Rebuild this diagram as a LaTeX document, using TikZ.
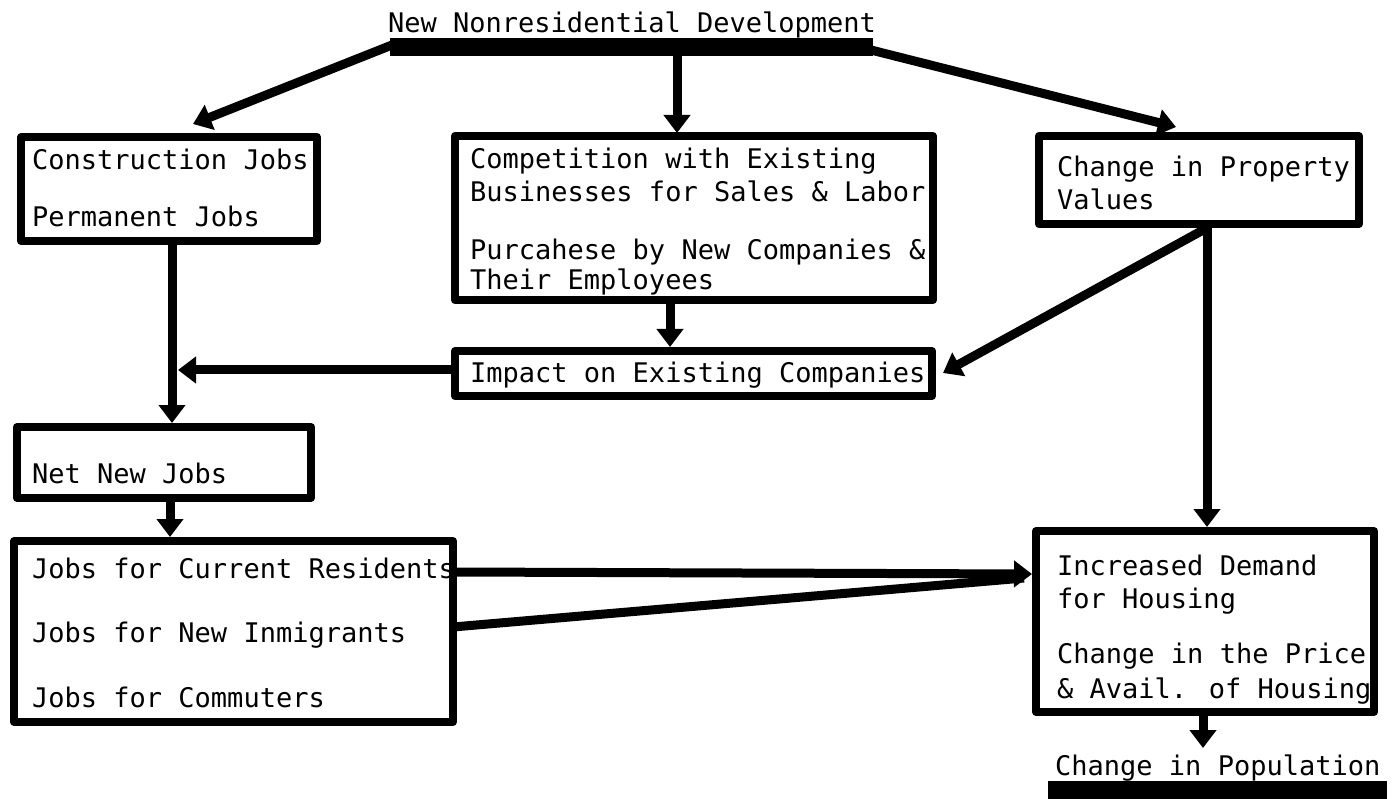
\documentclass[tikz,border=0pt]{standalone}
\usepackage{fontspec}
\newfontfamily\tw{DejaVu Sans Mono}
\usetikzlibrary{arrows.meta}
\begin{document}
\begin{tikzpicture}[x=1pt,y=-1pt,
  box/.style={draw, line width=8pt, inner sep=0pt, line join=round},
  txt/.style={anchor=base west, inner sep=0pt, font=\tw\fontsize{27}{32}\selectfont},
  arr/.style={line width=9pt, -{Triangle[width=26pt,length=18pt]}},
  link/.style={line width=9pt}]
\useasboundingbox (0,0) rectangle (1392,799);
% title and bar
\node[txt] (title) at (388,33) {New Nonresidential Development};
\node[fill=black, inner sep=0pt, minimum width=483pt, minimum height=18pt] (bar) at (631.5,47) {};
% boxes
\node[box, minimum width=296pt, minimum height=104pt] (cons) at (169,189) {};
\node[box, minimum width=478pt, minimum height=164pt] (comp) at (694,218) {};
\node[box, minimum width=320pt, minimum height=88pt] (prop) at (1199,180) {};
\node[box, minimum width=477pt, minimum height=45pt] (imp) at (693.5,373.5) {};
\node[box, minimum width=294pt, minimum height=71pt] (net) at (164,462.5) {};
\node[box, minimum width=439pt, minimum height=181pt] (jobs) at (233.5,631.5) {};
\node[box, minimum width=338pt, minimum height=181pt] (hous) at (1205,621.5) {};
\node[fill=black, inner sep=0pt, minimum width=339pt, minimum height=19pt] (popbar) at (1217.5,790.5) {};
% texts
\node[txt] (t1) at (32,170) {Construction Jobs};
\node[txt] (t2) at (32,227) {Permanent Jobs};
\node[txt] (t3) at (470,169) {Competition with Existing};
\node[txt] (t4) at (470,202) {Businesses for Sales \& Labor};
\node[txt] (t5) at (470,260) {Purcahese by New Companies \&};
\node[txt] (t6) at (470,290) {Their Employees};
\node[txt] (t7) at (1057,177) {Change in Property};
\node[txt] (t8) at (1057,210) {Values};
\node[txt] (t9) at (470,383) {Impact on Existing Companies};
\node[txt] (t10) at (32,483) {Net New Jobs};
\node[txt] (t11) at (32,578) {Jobs for Current Residents};
\node[txt] (t12) at (32,642) {Jobs for New Inmigrants};
\node[txt] (t13) at (32,707) {Jobs for Commuters};
\node[txt] (t14) at (1057,575) {Increased Demand};
\node[txt] (t15) at (1057,608) {for Housing};
\node[txt] (t16) at (1057,663) {Change in the Price};
\node[txt] (t17) at (1057,698) {\& Avail. of Housing};
\node[txt] (pop) at (1055,775) {Change in Population};
% connector end points
\coordinate (barL) at (392,45);
\coordinate (barR) at (871,50);
\coordinate (barM) at (677,55);
\coordinate (consTip) at (193,124);
\coordinate (propTip) at (1176,127);
\coordinate (compTip) at (677,133);
\coordinate (consOut) at (172,241);
\coordinate (netTip) at (172,423);
\coordinate (impOut) at (455,370);
\coordinate (joinTip) at (178,370);
\coordinate (compOut) at (670,300);
\coordinate (impTip) at (670,347);
\coordinate (propOut) at (1207,224);
\coordinate (housTip) at (1207,527);
\coordinate (propOut2) at (1205,229);
\coordinate (impTipR) at (943,373);
\coordinate (netOut) at (170,498);
\coordinate (jobsTip) at (170,537);
\coordinate (jobsOut1) at (453,572);
\coordinate (housTipL) at (1032,574);
\coordinate (jobsOut2) at (453,627);
\coordinate (housJoin) at (1024,578);
\coordinate (housOut) at (1203,712);
\coordinate (popTip) at (1203,748);
% connectors
\draw[arr] (barL) -- (consTip);
\draw[arr] (barR) -- (propTip);
\draw[arr] (barM) -- (compTip);
\draw[arr] (consOut) -- (netTip);
\draw[arr] (impOut) -- (joinTip);
\draw[arr] (compOut) -- (impTip);
\draw[arr] (propOut) -- (housTip);
\draw[arr] (propOut2) -- (impTipR);
\draw[arr] (netOut) -- (jobsTip);
\draw[arr] (jobsOut1) -- (housTipL);
\draw[link] (jobsOut2) -- (housJoin);
\draw[arr] (housOut) -- (popTip);
\end{tikzpicture}
\end{document}
